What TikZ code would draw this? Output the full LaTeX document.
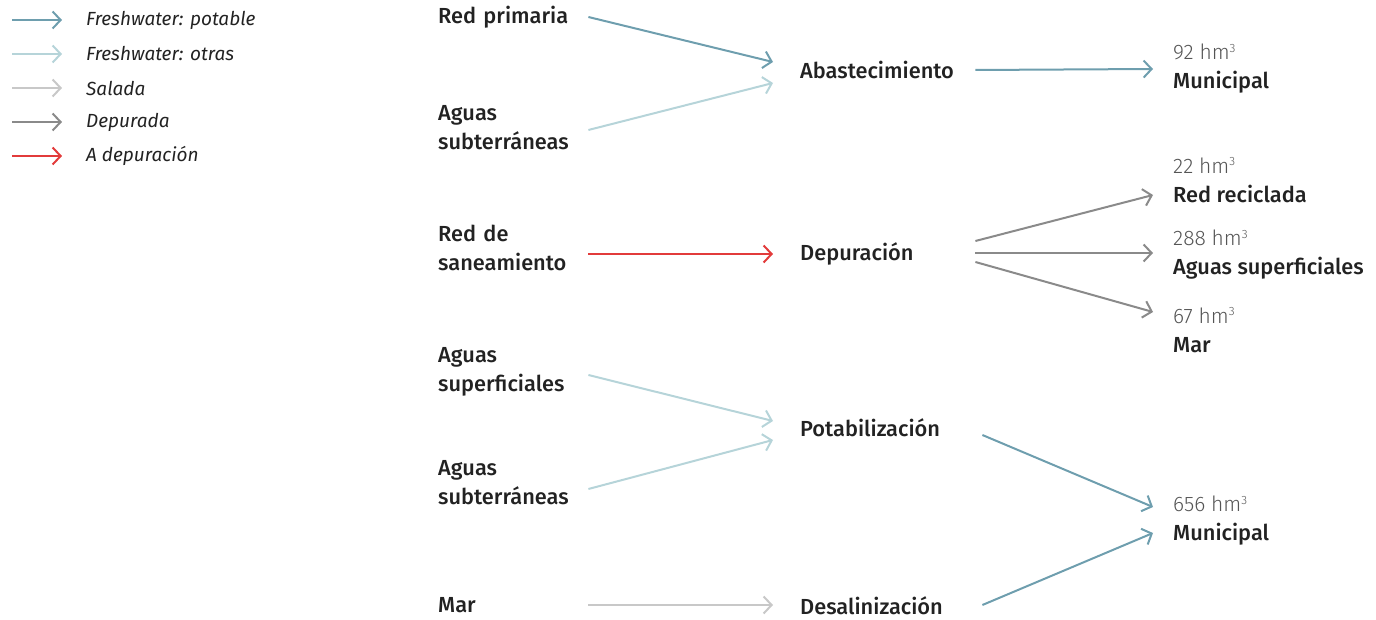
\documentclass[tikz,border=0pt]{standalone}
\usepackage{fontspec}
\setmainfont{Fira Sans}[BoldFont={Fira Sans Medium},ItalicFont={Fira Sans Italic}]
\newfontfamily\lightf{Fira Sans Light}
\usetikzlibrary{arrows.meta}
\definecolor{cpot}{HTML}{6E9EAE}
\definecolor{cotr}{HTML}{B6D4D9}
\definecolor{csal}{HTML}{C8C8C8}
\definecolor{cdep}{HTML}{8A8A8A}
\definecolor{cred}{HTML}{E23B3B}
\definecolor{ctxt}{HTML}{222222}
\definecolor{cnum}{HTML}{555555}
\tikzset{
  flow/.style={line width=2pt,-{Straight Barb[length=8pt,width=17pt,line width=2pt]}},
  pot/.style={flow,cpot}, otr/.style={flow,cotr}, sal/.style={flow,csal},
  dep/.style={flow,cdep}, red/.style={flow,cred},
  leg/.style={anchor=west,inner sep=0pt,font=\fontsize{19}{22}\selectfont\itshape,text=ctxt},
  src/.style={anchor=west,inner sep=0pt,text width=150pt,align=left,font=\fontsize{21.8}{29}\selectfont\bfseries,text=ctxt},
  mid/.style={anchor=west,inner sep=0pt,text width=#1,align=left,font=\fontsize{21.8}{29}\selectfont\bfseries,text=ctxt},
  dst/.style={anchor=west,inner sep=0pt,align=left,font=\fontsize{21.8}{29}\selectfont\bfseries,text=ctxt},
}
\newcommand{\numl}[1]{{\lightf\mdseries\fontsize{21}{29}\selectfont\color{cnum}#1 hm\textsuperscript{\fontsize{12}{12}\selectfont 3}}}
\begin{document}
\begin{tikzpicture}[x=1pt,y=-1pt]
\useasboundingbox (0,0) rectangle (1376,620);
% legend
\foreach \yy/\st/\tx [count=\i] in {20/pot/Freshwater: potable,54/otr/Freshwater: otras,88/sal/Salada,122/dep/Depurada,156/red/A depuración}{
  \coordinate (l\i a) at (12,\yy);
  \node[leg] (l\i t) at (86,\yy) {\tx};
  \draw[\st] (l\i a) -- ++(50,0);
}
% sources
\node[src] (s1) at (438,17) {Red primaria};
\node[src] (s2) at (438,128) {Aguas\\subterráneas};
\node[src] (s3) at (438,248) {Red de\\saneamiento};
\node[src] (s4) at (438,372) {Aguas\\superficiales};
\node[src] (s5) at (438,483) {Aguas\\subterráneas};
\node[src] (s6) at (438,605) {Mar};
% middle
\node[mid=202pt] (m1) at (773,70) {\hspace*{27pt}Abastecimiento};
\node[mid=202pt] (m2) at (773,254) {\hspace*{27pt}Depuración};
\node[mid=209pt] (m3) at (773,428) {\hspace*{27pt}Potabilización};
\node[mid=209pt] (m4) at (773,606) {\hspace*{27pt}Desalinización};
% destinations
\node[dst] (d1) at (1153,69) {\hspace*{20pt}\numl{92}\\\hspace*{20pt}Municipal};
\node[dst] (d2) at (1153,180) {\hspace*{20pt}\numl{22}\\\hspace*{20pt}Red reciclada};
\node[dst] (d3) at (1153,255) {\hspace*{20pt}\numl{288}\\\hspace*{20pt}Aguas superficiales};
\node[dst] (d4) at (1153,330) {\hspace*{20pt}\numl{67}\\\hspace*{20pt}Mar};
\node[dst] (d5) at (1153,521) {\hspace*{20pt}\numl{656}\\\hspace*{20pt}Municipal};
% connectors
\draw[pot] (s1.east) -- ([yshift=8pt]m1.west);
\draw[otr] ([yshift=-2pt]s2.east) -- ([yshift=-13pt]m1.west);
\draw[red] ([yshift=-6pt]s3.east) -- (m2.west);
\draw[otr] ([yshift=-3pt]s4.east) -- ([yshift=7pt]m3.west);
\draw[otr] ([yshift=-6pt]s5.east) -- ([yshift=-12pt]m3.west);
\draw[sal] (s6.east) -- ([yshift=1pt]m4.west);
\draw[pot] (m1.east) -- (d1.west);
\draw[dep] ([yshift=13pt]m2.east) -- ([yshift=-15pt]d2.west);
\draw[dep] ([yshift=1pt]m2.east) -- ([yshift=2pt]d3.west);
\draw[dep] ([yshift=-8pt]m2.east) -- ([yshift=18pt]d4.west);
\draw[pot] ([yshift=-7pt]m3.east) -- ([yshift=14pt]d5.west);
\draw[pot] ([yshift=1pt]m4.east) -- ([yshift=-12pt]d5.west);
\end{tikzpicture}
\end{document}
